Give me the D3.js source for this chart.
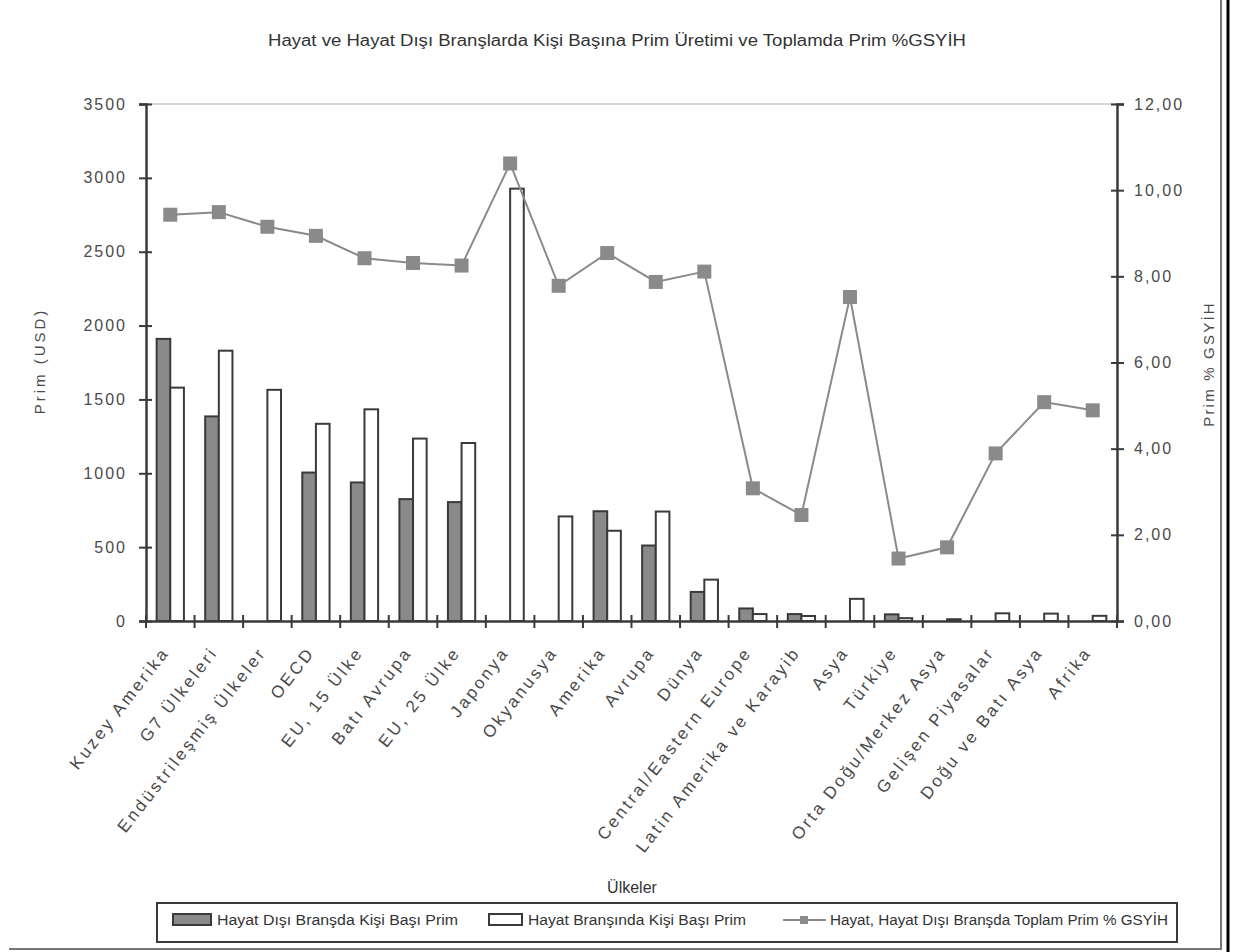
<!DOCTYPE html>
<html>
<head>
<meta charset="utf-8">
<script src="https://cdn.jsdelivr.net/npm/d3@7"></script>
<style>
  body { margin: 0; background: #fff; }
  text { font-family: Arial, "Liberation Sans", sans-serif; }
</style>
</head>
<body>
<svg width="1240" height="952"></svg>
<script>
// categories (ülkeler / bölgeler)
const categories = ["Kuzey Amerika", "G7 Ülkeleri", "Endüstrileşmiş Ülkeler", "OECD", "EU, 15 Ülke",
  "Batı Avrupa", "EU, 25 Ülke", "Japonya", "Okyanusya", "Amerika", "Avrupa", "Dünya",
  "Central/Eastern Europe", "Latin Amerika ve Karayib", "Asya", "Türkiye", "Orta Doğu/Merkez Asya",
  "Gelişen Piyasalar", "Doğu ve Batı Asya", "Afrika"];
// Hayat Dışı Branşda Kişi Başı Prim (USD)
const nonLifePrem = [1910, 1385, 0, 1005, 938, 825, 805, 0, 0, 743, 511, 197, 85, 47, 0, 45, 0, 0, 0, 0];
// Hayat Branşında Kişi Başı Prim (USD)
const lifePrem = [1580, 1830, 1565, 1335, 1433, 1235, 1205, 2927, 708, 611, 741, 280, 47, 34, 150, 19, 12, 52, 50, 35];
// Hayat, Hayat Dışı Branşda Toplam Prim % GSYİH
const pctGdp = [9.43, 9.49, 9.15, 8.94, 8.42, 8.31, 8.25, 10.62, 7.78, 8.54, 7.87, 8.11, 3.08, 2.46, 7.52, 1.45, 1.71, 3.89, 5.08, 4.89];
const leftTicks = [0, 500, 1000, 1500, 2000, 2500, 3000, 3500];
const rightTicks = [0, 2, 4, 6, 8, 10, 12];

const svg = d3.select("svg"),
    margin = {top: 104, right: 123, bottom: 331, left: 146},
    width = +svg.attr("width") - margin.left - margin.right,
    height = +svg.attr("height") - margin.top - margin.bottom,
    g = svg.append("g").attr("transform", "translate(" + margin.left + "," + margin.top + ")");

const axisCol = "#3a3a3a", textCol = "#4a4a4a", greyFill = "#8a8a8a";
const trFmt = d3.formatLocale({decimal: ",", thousands: ".", grouping: [3], currency: ["", ""]}).format(".2f");

const x0 = d3.scaleBand().domain(categories).range([0, width]).padding(0);
const x1 = d3.scaleBand().domain(["nonLife", "life"]).range([0, x0.bandwidth()]).paddingInner(0).paddingOuter(0.78);
const y = d3.scaleLinear().domain([0, 3500]).range([height, 0]);
const y2 = d3.scaleLinear().domain([0, 12]).range([height, 0]);

// title
svg.append("text")
    .attr("x", 617).attr("y", 46)
    .attr("text-anchor", "middle")
    .attr("font-size", 16)
    .attr("fill", "#333")
    .attr("textLength", 698).attr("lengthAdjust", "spacingAndGlyphs")
    .text("Hayat ve Hayat Dışı Branşlarda Kişi Başına Prim Üretimi  ve Toplamda Prim %GSYİH");

// top border of plot area
g.append("line")
    .attr("x1", 0).attr("x2", width).attr("y1", 0).attr("y2", 0)
    .attr("stroke", "#c8c8c8").attr("stroke-width", 1.5);

// bars
const groups = g.selectAll(".grp")
    .data(categories)
    .enter().append("g")
    .attr("transform", d => "translate(" + x0(d) + ",0)");

groups.append("rect")
    .attr("x", x1("nonLife"))
    .attr("width", x1.bandwidth())
    .attr("y", (d, i) => y(nonLifePrem[i]))
    .attr("height", (d, i) => height - y(nonLifePrem[i]))
    .attr("fill", greyFill)
    .attr("stroke", axisCol).attr("stroke-width", 2)
    .style("display", (d, i) => nonLifePrem[i] > 0 ? null : "none");

groups.append("rect")
    .attr("x", x1("life"))
    .attr("width", x1.bandwidth())
    .attr("y", (d, i) => y(lifePrem[i]))
    .attr("height", (d, i) => height - y(lifePrem[i]))
    .attr("fill", "#fff")
    .attr("stroke", axisCol).attr("stroke-width", 2)
    .style("display", (d, i) => lifePrem[i] > 0 ? null : "none");

// line + markers
const line = d3.line()
    .x((d, i) => x0(categories[i]) + x0.bandwidth() / 2)
    .y(d => y2(d));

g.append("path")
    .datum(pctGdp)
    .attr("fill", "none")
    .attr("stroke", greyFill)
    .attr("stroke-width", 2)
    .attr("d", line);

g.selectAll(".mk")
    .data(pctGdp)
    .enter().append("rect")
    .attr("x", (d, i) => x0(categories[i]) + x0.bandwidth() / 2 - 7)
    .attr("y", d => y2(d) - 7)
    .attr("width", 14).attr("height", 14)
    .attr("fill", greyFill);

// left axis
const yAxis = g.append("g")
    .call(d3.axisLeft(y).tickValues(leftTicks).tickSize(7).tickPadding(12).tickFormat(d3.format("d")));
yAxis.selectAll("line").attr("x1", 6);
// right axis
const y2Axis = g.append("g")
    .attr("transform", "translate(" + width + ",0)")
    .call(d3.axisRight(y2).tickValues(rightTicks).tickSize(7).tickPadding(10).tickFormat(trFmt));
y2Axis.selectAll("line").attr("x1", -6);
// bottom axis: ticks at category borders
const xAxis = g.append("g")
    .attr("transform", "translate(0," + height + ")")
    .call(d3.axisBottom(x0).tickSize(0).tickFormat(""));
xAxis.selectAll(".brd")
    .data(categories.concat(["_end"]))
    .enter().append("line")
    .attr("x1", (d, i) => i < categories.length ? x0(d) : width)
    .attr("x2", (d, i) => i < categories.length ? x0(d) : width)
    .attr("y1", -6).attr("y2", 7);

[yAxis, y2Axis, xAxis].forEach(a => {
    a.select(".domain").attr("stroke", axisCol).attr("stroke-width", 2.5);
    a.selectAll("line").attr("stroke", axisCol).attr("stroke-width", 2);
    a.selectAll("text").attr("fill", textCol).attr("font-size", 16).attr("letter-spacing", 2)
        .attr("font-family", "Arial, 'Liberation Sans', sans-serif");
});

// category labels
g.append("g").selectAll("text")
    .data(categories)
    .enter().append("text")
    .attr("transform", d => "translate(" + (x0(d) + x0.bandwidth() / 2 - 5) + "," + (height + 28) + ") rotate(-52)")
    .attr("text-anchor", "end")
    .attr("dy", "0.35em")
    .attr("font-size", 17)
    .attr("letter-spacing", 2.8)
    .attr("fill", textCol)
    .text(d => d);

// axis titles
svg.append("text")
    .attr("transform", "translate(45,361) rotate(-90)")
    .attr("text-anchor", "middle")
    .attr("font-size", 15).attr("letter-spacing", 3)
    .attr("fill", textCol)
    .text("Prim  (USD)");
svg.append("text")
    .attr("transform", "translate(1214,364) rotate(-90)")
    .attr("text-anchor", "middle")
    .attr("font-size", 15).attr("letter-spacing", 2.2)
    .attr("fill", textCol)
    .text("Prim % GSYİH");
svg.append("text")
    .attr("x", 632).attr("y", 893)
    .attr("text-anchor", "middle")
    .attr("font-size", 16)
    .attr("fill", "#333")
    .text("Ülkeler");

// legend
const lg = svg.append("g");
lg.append("rect")
    .attr("x", 157).attr("y", 903).attr("width", 1020).attr("height", 39)
    .attr("fill", "none").attr("stroke", axisCol).attr("stroke-width", 2);
lg.append("rect")
    .attr("x", 173).attr("y", 914).attr("width", 38).attr("height", 11)
    .attr("fill", greyFill).attr("stroke", axisCol).attr("stroke-width", 2);
lg.append("text")
    .attr("x", 217).attr("y", 925).attr("font-size", 14).attr("fill", "#333")
    .attr("textLength", 241).attr("lengthAdjust", "spacingAndGlyphs")
    .text("Hayat Dışı Branşda Kişi Başı Prim");
lg.append("rect")
    .attr("x", 489).attr("y", 914).attr("width", 33).attr("height", 11)
    .attr("fill", "#fff").attr("stroke", axisCol).attr("stroke-width", 2);
lg.append("text")
    .attr("x", 528).attr("y", 925).attr("font-size", 14).attr("fill", "#333")
    .attr("textLength", 218).attr("lengthAdjust", "spacingAndGlyphs")
    .text("Hayat Branşında Kişi Başı Prim");
lg.append("line")
    .attr("x1", 783).attr("x2", 826).attr("y1", 920).attr("y2", 920)
    .attr("stroke", greyFill).attr("stroke-width", 2);
lg.append("rect")
    .attr("x", 800).attr("y", 916).attr("width", 8).attr("height", 8)
    .attr("fill", greyFill);
lg.append("text")
    .attr("x", 830).attr("y", 925).attr("font-size", 14).attr("fill", "#333")
    .attr("textLength", 338).attr("lengthAdjust", "spacingAndGlyphs")
    .text("Hayat, Hayat Dışı Branşda Toplam Prim % GSYİH");

// outer frame lines
svg.append("line").attr("x1", 1221).attr("x2", 1221).attr("y1", 0).attr("y2", 950)
    .attr("stroke", "#777").attr("stroke-width", 2);
svg.append("line").attr("x1", 1228).attr("x2", 1228).attr("y1", 0).attr("y2", 952)
    .attr("stroke", "#000").attr("stroke-width", 3);
svg.append("line").attr("x1", 9).attr("x2", 1222).attr("y1", 949).attr("y2", 949)
    .attr("stroke", "#777").attr("stroke-width", 2);
</script>
</body>
</html>
